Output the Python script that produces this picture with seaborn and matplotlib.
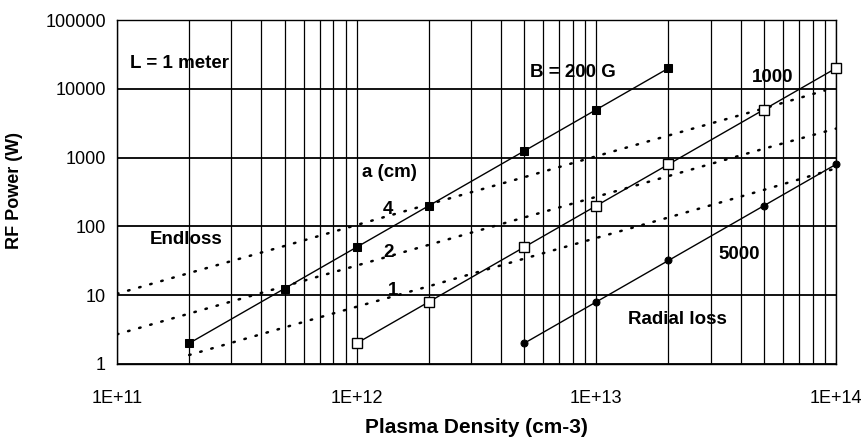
import matplotlib
matplotlib.use("Agg")
import matplotlib.pyplot as plt
import matplotlib.ticker as mticker
import numpy as np
import pandas as pd
import seaborn as sns

# ---- data ----
n_b200 = [2e11, 5e11, 1e12, 2e12, 5e12, 1e13, 2e13]
p_b200 = [2, 12.5, 50, 200, 1250, 5000, 20000]

n_b1000 = [1e12, 2e12, 5e12, 1e13, 2e13, 5e13, 1e14]
p_b1000 = [2, 8, 50, 200, 800, 5000, 20000]

n_b5000 = [5e12, 1e13, 2e13, 5e13, 1e14]
p_b5000 = [2, 8, 32, 200, 800]

n_a4 = [1e11, 2e11, 5e11, 1e12, 2e12, 5e12, 1e13, 2e13, 5e13, 9e13]
p_a4 = [10.5, 21, 52, 105, 210, 520, 1050, 2100, 5200, 9500]
n_a2 = [1e11, 2e11, 5e11, 1e12, 2e12, 5e12, 1e13, 2e13, 5e13, 1e14]
p_a2 = [2.7, 5.4, 13.5, 27, 54, 135, 270, 540, 1350, 2650]
n_a1 = [2e11, 5e11, 1e12, 2e12, 5e12, 1e13, 2e13, 5e13, 1e14]
p_a1 = [1.35, 3.4, 6.8, 13.5, 34, 68, 135, 340, 700]

x_ticks = [1e11, 1e12, 1e13, 1e14]
x_ticklabels = ["1E+11", "1E+12", "1E+13", "1E+14"]
y_ticks = [1, 10, 100, 1000, 10000, 100000]
y_ticklabels = ["1", "10", "100", "1000", "10000", "100000"]

sns.set_theme(style="white")
plt.rcParams['font.family'] = ['Liberation Sans', 'DejaVu Sans']

fig = plt.figure(figsize=(8.63, 4.38), dpi=100)
ax = fig.add_axes([0.1356, 0.169, 0.8331, 0.785])

# endloss (dotted)
for nx, py in [(n_a4, p_a4), (n_a2, p_a2), (n_a1, p_a1)]:
    df = pd.DataFrame({"n": nx, "P": py})
    sns.lineplot(data=df, x="n", y="P", ax=ax, color="black", lw=1.8,
                 linestyle=(0, (0.6, 4.0)), dash_capstyle="round", zorder=3)

# radial loss (solid with markers)
df = pd.DataFrame({"n": n_b200, "P": p_b200})
sns.lineplot(data=df, x="n", y="P", ax=ax, color="black", lw=1.0, marker="s",
             markersize=6, markerfacecolor="black", markeredgecolor="black",
             zorder=4, clip_on=False)
df = pd.DataFrame({"n": n_b1000, "P": p_b1000})
sns.lineplot(data=df, x="n", y="P", ax=ax, color="black", lw=1.0, marker="s",
             markersize=7.5, markerfacecolor="white", markeredgecolor="black",
             markeredgewidth=1.0, zorder=4, clip_on=False)
df = pd.DataFrame({"n": n_b5000, "P": p_b5000})
sns.lineplot(data=df, x="n", y="P", ax=ax, color="black", lw=1.0, marker="o",
             markersize=5, markerfacecolor="black", markeredgecolor="black",
             zorder=4, clip_on=False)

ax.set_xscale("log")
ax.set_yscale("log")
ax.set_xlim(1e11, 1e14)
ax.set_ylim(1, 1e5)

ax.xaxis.set_major_locator(mticker.FixedLocator(x_ticks))
ax.xaxis.set_major_formatter(mticker.FixedFormatter(x_ticklabels))
ax.xaxis.set_minor_locator(mticker.LogLocator(base=10, subs=np.arange(2, 10)))
ax.xaxis.set_minor_formatter(mticker.NullFormatter())
ax.yaxis.set_major_locator(mticker.FixedLocator(y_ticks))
ax.yaxis.set_major_formatter(mticker.FixedFormatter(y_ticklabels))
ax.yaxis.set_minor_locator(mticker.NullLocator())

ax.grid(True, which="both", axis="x", color="black", lw=0.9)
ax.grid(True, which="major", axis="y", color="black", lw=1.3)
for s in ax.spines.values():
    s.set_color("black")
    s.set_linewidth(1.0)

ax.tick_params(axis="both", which="major", direction="out", length=5, width=1,
               color="black", labelsize=13, labelcolor="black", pad=3)
ax.tick_params(axis="x", which="major", pad=14)
ax.tick_params(axis="x", which="minor", length=0)

ax.set_xlabel("Plasma Density (cm-3)", fontsize=15, fontweight="bold", color="black")
ax.set_ylabel("RF Power (W)", fontsize=13, fontweight="bold", color="black")
ax.xaxis.label.set_va("center")
ax.yaxis.label.set_va("center")
ax.xaxis.set_label_coords(0.5, -0.186)
ax.yaxis.set_label_coords(-0.142, 0.506)

tkw = dict(transform=ax.transAxes, fontsize=13.5, fontweight="bold", color="black",
           va="center", ha="left", zorder=6)
ax.text(0.018, 0.875, "L = 1 meter", **tkw)
ax.text(0.574, 0.849, "B = 200 G", **tkw)
ax.text(0.883, 0.834, "1000", **tkw)
ax.text(0.341, 0.558, "a (cm)", **tkw)
ax.text(0.377, 0.448, "4", **dict(tkw, ha="center"))
ax.text(0.377, 0.323, "2", **dict(tkw, ha="center"))
ax.text(0.384, 0.215, "1", **dict(tkw, ha="center"))
ax.text(0.046, 0.363, "Endloss", **tkw)
ax.text(0.836, 0.317, "5000", **tkw)
ax.text(0.711, 0.128, "Radial loss", **tkw)

fig.savefig("out.png", dpi=100)
